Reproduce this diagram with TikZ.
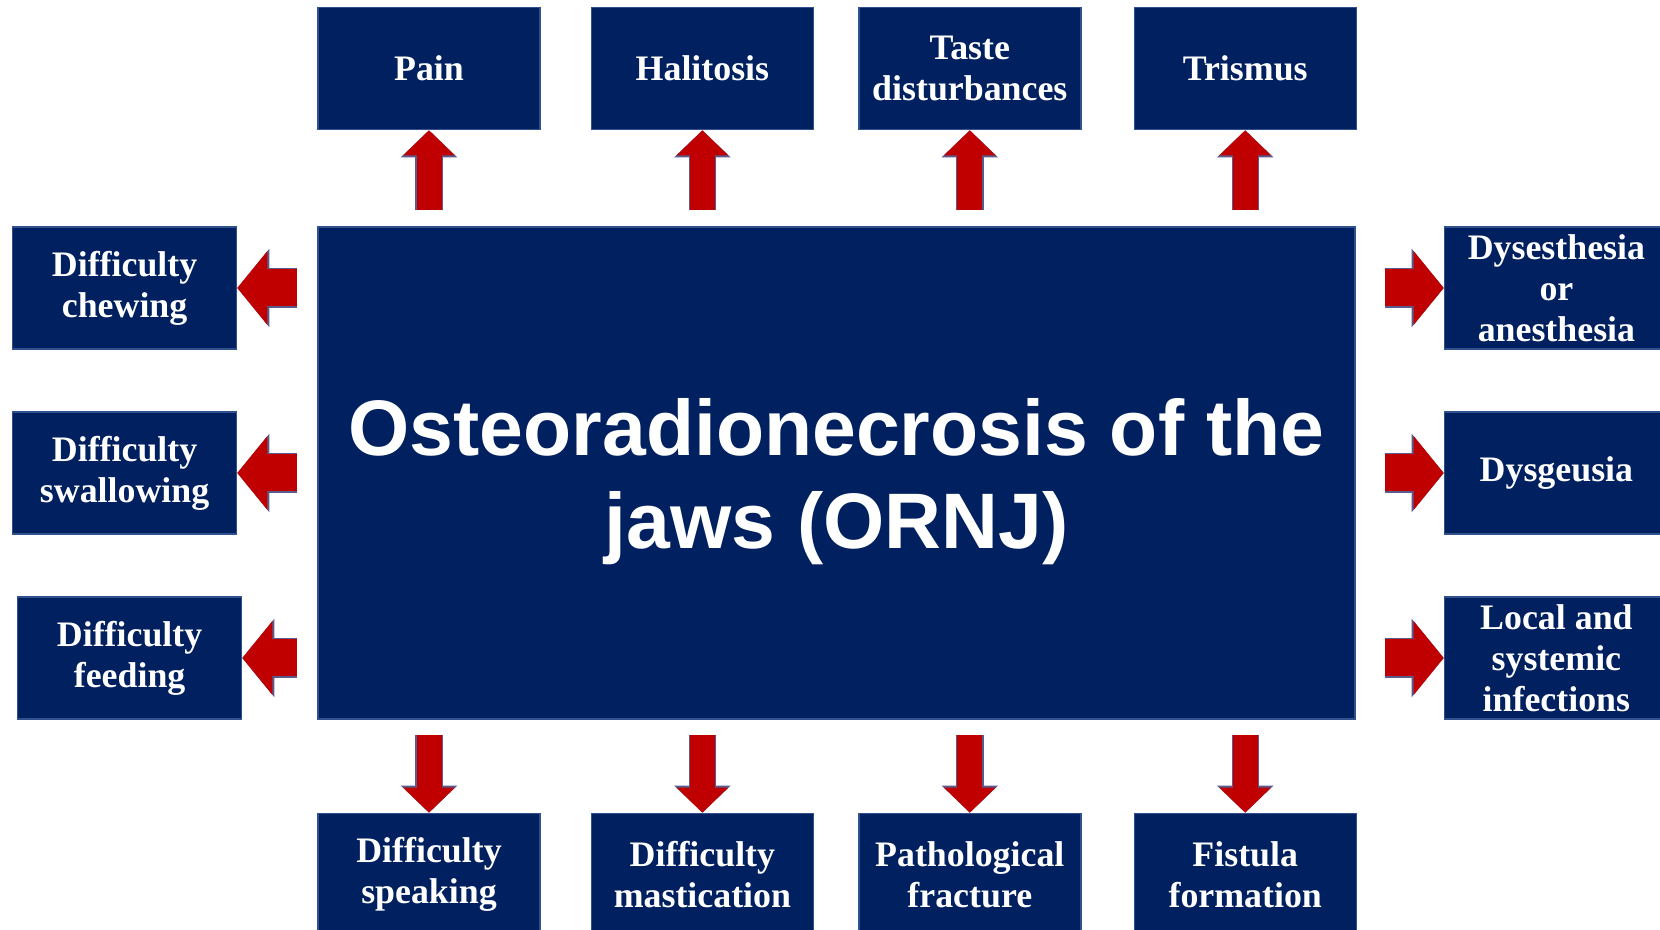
\documentclass[tikz,border=0pt]{standalone}
\usepackage{fontspec}
\setmainfont{Liberation Serif}
\newfontfamily\headfont{Liberation Sans}
\usetikzlibrary{arrows.meta, positioning, calc}
\definecolor{ornnavy}{RGB}{0, 32, 96}
\definecolor{ornred}{RGB}{192, 0, 0}
\definecolor{ornedge}{RGB}{47, 82, 143}
\definecolor{arrowedge}{RGB}{90, 90, 140}

\begin{document}
\begin{tikzpicture}[
  node distance=0.5cm,
  symptom/.style={rectangle, draw=ornedge, fill=ornnavy, line width=0.4pt, text=white,
                  minimum width=2.22cm, minimum height=1.22cm, inner sep=0pt, align=center,
                  font=\fontsize{10.2}{11.7}\selectfont\bfseries},
  core/.style={rectangle, draw=ornedge, fill=ornnavy, line width=0.4pt,
               minimum width=10.37cm, minimum height=4.92cm},
  title/.style={text=white, align=center,
                font=\headfont\fontsize{22.4}{26.5}\selectfont\bfseries},
  vblock/.style={preaction={draw=arrowedge, line width=2.5mm+0.7pt,
                 -{Triangle[width=5mm+1.4pt, length=2.5mm+0.6pt]}},
                 ornred, line width=2.5mm, -{Triangle[width=5mm, length=2.5mm]}},
  hblock/.style={preaction={draw=arrowedge, line width=3.7mm+0.7pt,
                 -{Triangle[width=7.2mm+1.4pt, length=3mm+0.6pt]}},
                 ornred, line width=3.7mm, -{Triangle[width=7.2mm, length=3mm]}}
]
  \useasboundingbox (0,0) rectangle (16.6,9.3);
  \clip (0,0) rectangle (16.6,9.3);

  \node[core] (main) at (8.365,4.57) {};
  \node[title] (ornj) at ([yshift=-0.085cm]main.center) {Osteoradionecrosis of the\\jaws (ORNJ)};

  % top row
  \node[symptom, anchor=south west] (pain) at ([yshift=0.96cm]main.north west) {Pain};
  \node[symptom, right=of pain]        (halit)   {Halitosis};
  \node[symptom, right=0.44cm of halit] (taste)  {Taste\\disturbances};
  \node[symptom, right=0.52cm of taste] (trismus) {Trismus};

  % bottom row
  \node[symptom, anchor=north west] (speak) at ([yshift=-0.93cm]main.south west) {Difficulty\\speaking};
  \node[symptom, right=of speak]          (mastic)   {Difficulty\\mastication};
  \node[symptom, right=0.44cm of mastic]   (fracture) {Pathological\\fracture};
  \node[symptom, right=0.52cm of fracture] (fistula)  {Fistula\\formation};

  % left column
  \node[symptom, minimum width=2.24cm, anchor=north east] (chew) at ([xshift=-0.8cm]main.north west) {Difficulty\\chewing};
  \node[symptom, minimum width=2.24cm, left=0.8cm of main] (swallow) {Difficulty\\swallowing};
  \node[symptom, minimum width=2.24cm, anchor=south east] (feed) at ([xshift=-0.75cm]main.south west) {Difficulty\\feeding};

  % right column
  \node[symptom, minimum width=2.24cm, anchor=north west] (dysest) at ([xshift=0.88cm]main.north east) {Dysesthesia\\or\\anesthesia};
  \node[symptom, minimum width=2.24cm, right=0.88cm of main] (dysgeus) {Dysgeusia};
  \node[symptom, minimum width=2.24cm, anchor=south west] (infect) at ([xshift=0.88cm]main.south east) {Local and\\systemic\\infections};

  \foreach \n in {pain, halit, taste, trismus}
    \draw[vblock] ($(main.north -| \n.south)+(0,0.16)$) -- (\n.south);
  \foreach \n in {speak, mastic, fracture, fistula}
    \draw[vblock] ($(main.south -| \n.north)+(0,-0.15)$) -- (\n.north);
  \foreach \n in {chew, swallow, feed}
    \draw[hblock] ($(main.west |- \n.east)+(-0.2,0)$) -- (\n.east);
  \foreach \n in {dysest, dysgeus, infect}
    \draw[hblock] ($(main.east |- \n.west)+(0.29,0)$) -- (\n.west);
\end{tikzpicture}
\end{document}
